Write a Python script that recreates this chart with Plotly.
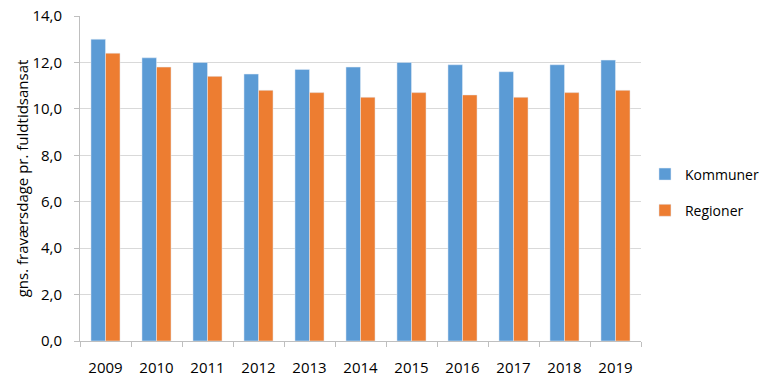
import plotly.graph_objects as go

years = ["2009", "2010", "2011", "2012", "2013", "2014", "2015", "2016", "2017", "2018", "2019"]
kommuner = [13.0, 12.2, 12.0, 11.5, 11.7, 11.8, 12.0, 11.9, 11.6, 11.9, 12.1]
regioner = [12.4, 11.8, 11.4, 10.8, 10.7, 10.5, 10.7, 10.6, 10.5, 10.7, 10.8]
y_title = "gns. fraværsdage pr. fuldtidsansat"

font_family = "Open Sans, Liberation Sans, sans-serif"

fig = go.Figure()
fig.add_trace(go.Bar(x=years, y=kommuner, name="Kommuner", marker_color="#5B9BD5",
                     legendgroup="k"))
fig.add_trace(go.Bar(x=years, y=regioner, name="Regioner", marker_color="#ED7D31",
                     legendgroup="r"))

fig.update_layout(
    width=770, height=381,
    margin=dict(l=80, r=129, t=16, b=40, autoexpand=False),
    paper_bgcolor="white", plot_bgcolor="white",
    barmode="group", bargap=0.43, bargroupgap=0,
    separators=",.",
    font=dict(family=font_family, size=15, color="#000"),
    legend=dict(x=1.0071, y=0.457, xanchor="left", yanchor="middle",
                tracegroupgap=15, font=dict(size=14)),
    showlegend=True,
)
fig.update_xaxes(
    automargin=False,
    showline=True, linecolor="#BFBFBF", linewidth=1,
    ticks="outside", tickson="boundaries", ticklen=5, tickcolor="#BFBFBF",
    showgrid=False, tickfont=dict(size=15), ticklabelstandoff=13,
    ticklabeloverflow="allow",
)
fig.update_yaxes(
    automargin=False,
    range=[0, 14], dtick=2, tickformat=".1f",
    showline=True, linecolor="#BFBFBF", linewidth=1,
    ticks="outside", ticklen=5, tickcolor="#BFBFBF",
    showgrid=True, gridcolor="#D9D9D9", gridwidth=1,
    tickfont=dict(size=15), ticklabelstandoff=9,
    ticklabeloverflow="allow",
    title=dict(text=y_title, font=dict(size=15), standoff=0),
    zeroline=False,
)

# remove the default 8px page margin so the figure fills the window exactly
fig.write_html("out.html",
               config={"displayModeBar": False},
               post_script="document.body.style.margin='0';document.body.style.overflow='hidden';")
